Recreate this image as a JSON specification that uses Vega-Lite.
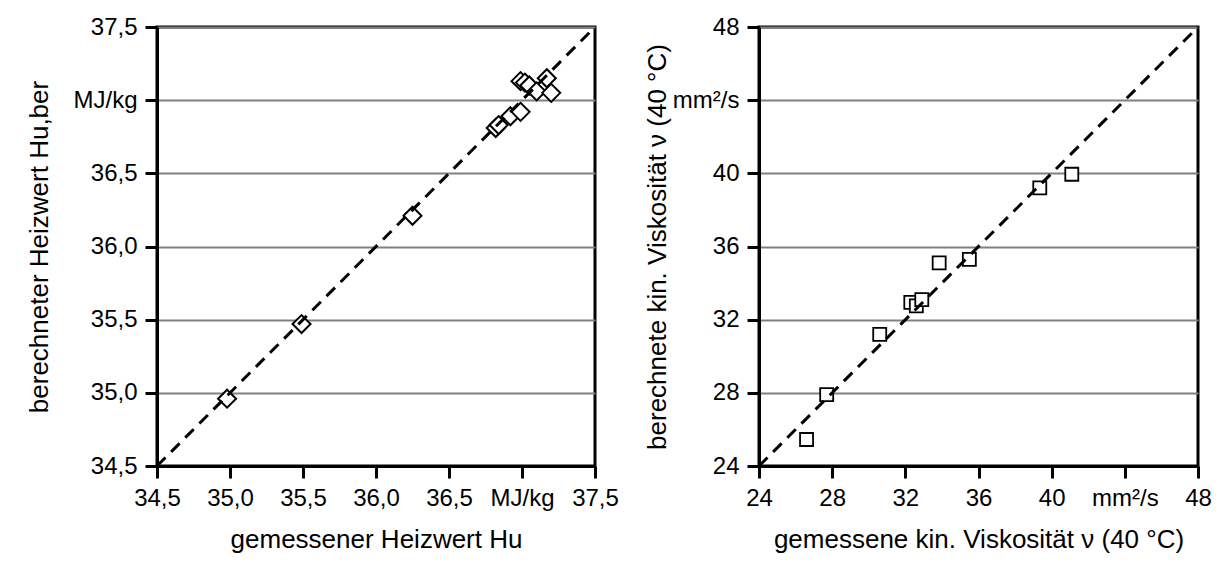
{
  "$schema": "https://vega.github.io/schema/vega-lite/v6.json",
  "background": "white",
  "padding": {"left": 25, "top": 13, "right": 5, "bottom": 5},
  "spacing": 22,
  "config": {
    "font": "Liberation Sans",
    "view": {"stroke": "black", "strokeWidth": 3},
    "axisX": {
      "domainColor": "black", "domainWidth": 3,
      "tickColor": "black", "tickWidth": 3, "tickSize": 12,
      "labelColor": "black", "labelFont": "Liberation Sans",
      "titleColor": "black", "titleFont": "Liberation Sans", "titleFontWeight": "normal",
      "gridColor": "#808080", "gridWidth": 2, "gridOpacity": 1,
      "labelFlush": false, "labelOverlap": false, "labelPadding": 8
    },
    "axisY": {
      "domainColor": "black", "domainWidth": 3,
      "tickColor": "black", "tickWidth": 3, "tickSize": 12,
      "labelColor": "black", "labelFont": "Liberation Sans",
      "titleColor": "black", "titleFont": "Liberation Sans", "titleFontWeight": "normal",
      "gridColor": "#808080", "gridWidth": 2, "gridOpacity": 1,
      "labelFlush": false, "labelOverlap": false, "labelPadding": 8
    }
  },
  "hconcat": [
    {
      "width": 438, "height": 439,
      "layer": [
        {
          "data": {"values": [
            {"gemessen": 34.98, "berechnet": 34.96},
            {"gemessen": 35.49, "berechnet": 35.47},
            {"gemessen": 36.25, "berechnet": 36.21},
            {"gemessen": 36.82, "berechnet": 36.81},
            {"gemessen": 36.84, "berechnet": 36.83},
            {"gemessen": 36.92, "berechnet": 36.89},
            {"gemessen": 36.99, "berechnet": 36.92},
            {"gemessen": 36.99, "berechnet": 37.13},
            {"gemessen": 37.02, "berechnet": 37.12},
            {"gemessen": 37.05, "berechnet": 37.10},
            {"gemessen": 37.10, "berechnet": 37.06},
            {"gemessen": 37.17, "berechnet": 37.15},
            {"gemessen": 37.20, "berechnet": 37.05}
          ]},
          "mark": {"type": "point", "shape": "diamond", "filled": true, "fill": "white", "stroke": "black", "strokeWidth": 2, "size": 324, "opacity": 1},
          "encoding": {
            "x": {"field": "gemessen", "type": "quantitative",
              "scale": {"domain": [34.5, 37.5], "nice": false, "zero": false},
              "axis": {"values": [34.5, 35, 35.5, 36, 36.5, 37, 37.5], "grid": false,
                "labelFontSize": 24, "titleFontSize": 26, "tickSize": 12, "tickWidth": 3, "domainWidth": 3,
                "labelExpr": "datum.value == 37 ? 'MJ/kg' : replace(format(datum.value, '.1f'), '.', ',')",
                "title": "gemessener Heizwert Hu", "titlePadding": 16}},
            "y": {"field": "berechnet", "type": "quantitative",
              "scale": {"domain": [34.5, 37.5], "nice": false, "zero": false},
              "axis": {"values": [34.5, 35, 35.5, 36, 36.5, 37, 37.5], "grid": true,
                "labelFontSize": 24, "titleFontSize": 26, "tickSize": 12, "tickWidth": 3, "domainWidth": 3,
                "labelExpr": "datum.value == 37 ? 'MJ/kg' : replace(format(datum.value, '.1f'), '.', ',')",
                "title": "berechneter Heizwert Hu,ber", "titlePadding": 20}}
          }
        },
        {
          "data": {"values": [{"a": 34.5, "b": 34.5}, {"a": 37.5, "b": 37.5}]},
          "mark": {"type": "line", "color": "black", "strokeWidth": 3, "strokeDash": [12, 8]},
          "encoding": {
            "x": {"field": "a", "type": "quantitative"},
            "y": {"field": "b", "type": "quantitative"}
          }
        }
      ]
    },
    {
      "width": 439, "height": 439,
      "layer": [
        {
          "data": {"values": [
            {"gemessen": 26.6, "berechnet": 25.45},
            {"gemessen": 27.7, "berechnet": 27.9},
            {"gemessen": 30.6, "berechnet": 31.2},
            {"gemessen": 32.3, "berechnet": 32.95},
            {"gemessen": 32.6, "berechnet": 32.75},
            {"gemessen": 32.9, "berechnet": 33.1},
            {"gemessen": 33.85, "berechnet": 35.1},
            {"gemessen": 35.5, "berechnet": 35.3},
            {"gemessen": 39.35, "berechnet": 39.2},
            {"gemessen": 41.1, "berechnet": 39.95}
          ]},
          "mark": {"type": "point", "shape": "square", "filled": true, "fill": "white", "stroke": "black", "strokeWidth": 1.8, "size": 169, "opacity": 1},
          "encoding": {
            "x": {"field": "gemessen", "type": "quantitative",
              "scale": {"domain": [24, 48], "nice": false, "zero": false},
              "axis": {"values": [24, 28, 32, 36, 40, 44, 48], "grid": false,
                "labelFontSize": 24, "titleFontSize": 26, "tickSize": 12, "tickWidth": 3, "domainWidth": 3,
                "labelExpr": "datum.value == 44 ? 'mm²/s' : datum.label",
                "title": "gemessene kin. Viskosität ν (40 °C)", "titlePadding": 16}},
            "y": {"field": "berechnet", "type": "quantitative",
              "scale": {"domain": [24, 48], "nice": false, "zero": false},
              "axis": {"values": [24, 28, 32, 36, 40, 44, 48], "grid": true,
                "labelFontSize": 24, "titleFontSize": 26, "tickSize": 12, "tickWidth": 3, "domainWidth": 3,
                "labelExpr": "datum.value == 44 ? 'mm²/s' : datum.label",
                "title": "berechnete kin. Viskosität ν (40 °C)", "titlePadding": 2}}
          }
        },
        {
          "data": {"values": [{"a": 24, "b": 24}, {"a": 48, "b": 48}]},
          "mark": {"type": "line", "color": "black", "strokeWidth": 3, "strokeDash": [12, 8]},
          "encoding": {
            "x": {"field": "a", "type": "quantitative"},
            "y": {"field": "b", "type": "quantitative"}
          }
        }
      ]
    }
  ]
}
